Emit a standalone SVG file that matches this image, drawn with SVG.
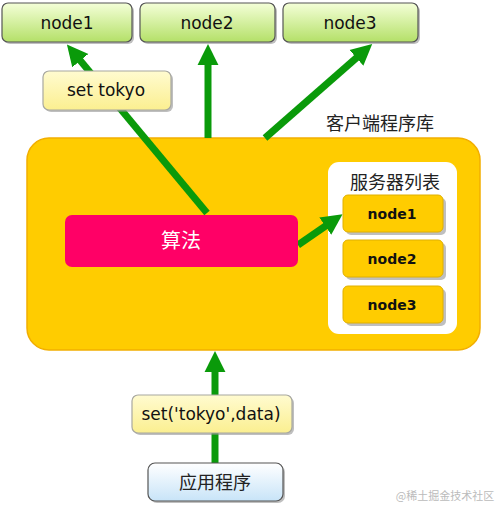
<svg xmlns="http://www.w3.org/2000/svg" width="497" height="507" viewBox="0 0 497 507">
<defs>
  <linearGradient id="gGreen" x1="0" y1="0" x2="0" y2="1">
    <stop offset="0" stop-color="#F4FFD8"/>
    <stop offset="1" stop-color="#B4E068"/>
  </linearGradient>
  <linearGradient id="gBlue" x1="0" y1="0" x2="0" y2="1">
    <stop offset="0" stop-color="#FFFFFF"/>
    <stop offset="1" stop-color="#C8E4F8"/>
  </linearGradient>
  <linearGradient id="gYel" x1="0" y1="0" x2="0" y2="1">
    <stop offset="0" stop-color="#FFFBD0"/>
    <stop offset="1" stop-color="#FBEF90"/>
  </linearGradient>
  <marker id="ah" viewBox="0 0 10 10" refX="1" refY="5" markerWidth="3" markerHeight="3.2" orient="auto" markerUnits="strokeWidth">
    <path d="M0,0 L10,5 L0,10 z" fill="#0A9A0A"/>
  </marker>
</defs>
<style>
  .shadow { fill: #8A8A8A; opacity: 0.55; }
  .gnode { fill: url(#gGreen); stroke: #555; stroke-width: 1.2; }
  .ylab { fill: url(#gYel); stroke: #A8A8A0; stroke-width: 1.2; }
  .inode { fill: #FFCC00; stroke: #E0B000; stroke-width: 1; }
  .t { font-family: "DejaVu Sans", Verdana, sans-serif; fill: #111; text-anchor: middle; }
  .tb { font-family: "DejaVu Sans", Verdana, sans-serif; font-weight: bold; fill: #111; text-anchor: middle; font-size: 14px; }
  .cj { font-family: "Noto Sans CJK SC", sans-serif; fill: #222; text-anchor: middle; }
  .conn { stroke: #0A9A0A; stroke-width: 7; fill: none; marker-end: url(#ah); }
</style>

<g id="client-lib">
  <rect x="27" y="138" width="453" height="212" rx="22" fill="#FFCC00" stroke="#F2AE00" stroke-width="1.5"/>
  <text class="cj" x="380" y="130" font-size="18">客户端程序库</text>
</g>

<g id="server-list">
  <rect x="328" y="162" width="129" height="172" rx="11" fill="#FFFFFF"/>
  <text class="cj" x="395" y="189" font-size="18">服务器列表</text>
</g>

<g id="connectors">
  <line class="conn" x1="207" y1="213" x2="79" y2="59"/>
  <line class="conn" x1="208" y1="138" x2="208" y2="63"/>
  <line class="conn" x1="265" y1="138" x2="358" y2="56.5"/>
  <line class="conn" x1="298" y1="245" x2="327" y2="225"/>
  <line class="conn" x1="215" y1="463" x2="215" y2="370"/>
</g>

<g id="node1-top">
  <rect class="shadow" x="4" y="5" width="130" height="39" rx="6"/>
  <rect class="gnode" x="2" y="3" width="130" height="39" rx="6"/>
  <text class="t" x="67" y="29" font-size="17">node1</text>
</g>
<g id="node2-top">
  <rect class="shadow" x="142" y="5" width="135" height="39" rx="6"/>
  <rect class="gnode" x="140" y="3" width="135" height="39" rx="6"/>
  <text class="t" x="207" y="29" font-size="17">node2</text>
</g>
<g id="node3-top">
  <rect class="shadow" x="285" y="5" width="135" height="39" rx="6"/>
  <rect class="gnode" x="283" y="3" width="135" height="39" rx="6"/>
  <text class="t" x="350" y="29" font-size="17">node3</text>
</g>

<g id="set-tokyo">
  <rect class="shadow" x="45" y="73" width="128" height="39" rx="6"/>
  <rect class="ylab" x="43" y="71" width="128" height="39" rx="6"/>
  <text class="t" x="106" y="96" font-size="17">set tokyo</text>
</g>

<g id="algo">
  <rect x="65" y="215" width="233" height="52" rx="7" fill="#FF0066"/>
  <text class="cj" x="181" y="248" font-size="20" fill="#FFFFFF" style="fill:#FFFFFF">算法</text>
</g>

<g id="node1-list">
  <rect class="shadow" x="346" y="198" width="100" height="37" rx="5"/>
  <rect class="inode" x="343" y="195" width="100" height="37" rx="5"/>
  <text class="tb" x="392" y="219">node1</text>
</g>
<g id="node2-list">
  <rect class="shadow" x="346" y="243" width="100" height="37" rx="5"/>
  <rect class="inode" x="343" y="240" width="100" height="37" rx="5"/>
  <text class="tb" x="392" y="264">node2</text>
</g>
<g id="node3-list">
  <rect class="shadow" x="346" y="289" width="100" height="37" rx="5"/>
  <rect class="inode" x="343" y="286" width="100" height="37" rx="5"/>
  <text class="tb" x="392" y="310">node3</text>
</g>

<g id="set-data">
  <rect class="shadow" x="134" y="397" width="160" height="38" rx="6"/>
  <rect class="ylab" x="132" y="395" width="160" height="38" rx="6"/>
  <text class="t" x="211" y="420" font-size="17">set('tokyo',data)</text>
</g>

<g id="app">
  <rect class="shadow" x="150" y="465" width="135" height="38" rx="7"/>
  <rect x="148" y="463" width="135" height="38" rx="7" fill="url(#gBlue)" stroke="#555" stroke-width="1.2"/>
  <text class="cj" x="215" y="489" font-size="18">应用程序</text>
</g>

<text class="cj" x="445" y="500" font-size="11" style="fill:#BBBBBB">@稀土掘金技术社区</text>
</svg>
